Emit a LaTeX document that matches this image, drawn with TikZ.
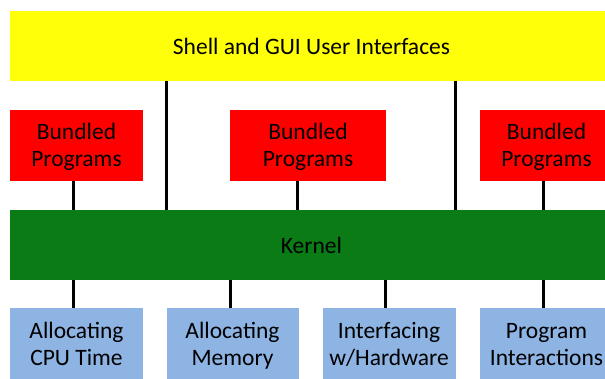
\documentclass[tikz,border=0pt]{standalone}
\usepackage{fontspec}
\setmainfont{Carlito}
\definecolor{uiyellow}{HTML}{FFFF0A}
\definecolor{progred}{HTML}{FF0000}
\definecolor{kergreen}{HTML}{0B7B16}
\definecolor{taskblue}{HTML}{8EB4E3}
\newcommand\firstln{\rule{0pt}{22pt}}
\newcommand\lastln{\rule[-6pt]{0pt}{6pt}}
\begin{document}
\begin{tikzpicture}[x=1pt,y=-1pt,
  box/.style={draw=none, inner sep=0pt, align=center, font=\fontsize{23.5}{27}\selectfont},
  wide/.style={box, minimum width=603pt, minimum height=70pt},
  prog/.style={box, fill=progred, minimum height=71pt},
  task/.style={box, fill=taskblue, minimum height=71pt},
  link/.style={line width=2.3pt, black}]
\useasboundingbox (0,0) rectangle (605,379);
\clip (0,0) rectangle (605,379);
% top layer
\node[wide, fill=uiyellow] (ui) at (311.5,46) {Shell and GUI User Interfaces};
% bundled programs
\node[prog, minimum width=133pt] (p1) at (76.5,145.5) {\firstln Bundled\\Programs\lastln};
\node[prog, minimum width=156pt] (p2) at (308,145.5) {\firstln Bundled\\Programs\lastln};
\node[prog, minimum width=133pt] (p3) at (546.5,145.5) {\firstln Bundled\\Programs\lastln};
% kernel
\node[wide, fill=kergreen] (ker) at (311.5,245) {Kernel};
% tasks
\node[task, minimum width=133pt] (t1) at (76.5,344) {\firstln Allocating\\CPU Time\lastln};
\node[task, minimum width=132pt] (t2) at (232.5,344) {\firstln Allocating\\Memory\lastln};
\node[task, minimum width=133pt] (t3) at (389,344) {\firstln Interfacing\\w/Hardware\lastln};
\node[task, minimum width=133pt] (t4) at (546.5,344) {\firstln Program\\Interactions\lastln};
% connectors UI -> kernel
\draw[link] (166.5,0 |- ui.south) -- (166.5,0 |- ker.north);
\draw[link] (455.5,0 |- ui.south) -- (455.5,0 |- ker.north);
% programs -> kernel
\draw[link] (73.5,0 |- p1.south) -- (73.5,0 |- ker.north);
\draw[link] (297.5,0 |- p2.south) -- (297.5,0 |- ker.north);
\draw[link] (543.5,0 |- p3.south) -- (543.5,0 |- ker.north);
% kernel -> tasks
\draw[link] (73.5,0 |- ker.south) -- (73.5,0 |- t1.north);
\draw[link] (230.5,0 |- ker.south) -- (230.5,0 |- t2.north);
\draw[link] (385.5,0 |- ker.south) -- (385.5,0 |- t3.north);
\draw[link] (543.5,0 |- ker.south) -- (543.5,0 |- t4.north);
\end{tikzpicture}
\end{document}
